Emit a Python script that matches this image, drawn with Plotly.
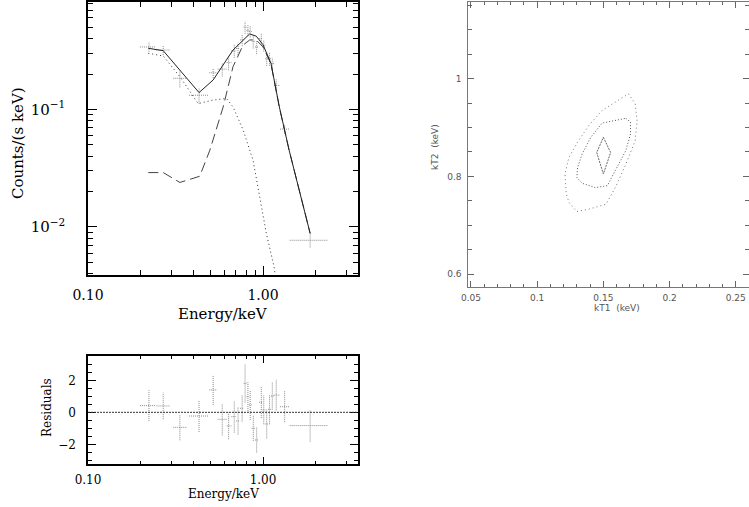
import plotly.graph_objects as go
import numpy as np

# ---------------- data ----------------
energy = [0.223, 0.269, 0.335, 0.431, 0.519, 0.585, 0.636, 0.685, 0.72, 0.76, 0.79, 0.82,
          0.845, 0.88, 0.92, 0.978, 1.01, 1.05, 1.09, 1.13, 1.19, 1.33, 1.86]
energy_lo = [0.198, 0.246, 0.307, 0.378, 0.493, 0.55, 0.62, 0.66, 0.70, 0.74, 0.775, 0.805,
             0.833, 0.862, 0.90, 0.95, 0.995, 1.03, 1.07, 1.11, 1.16, 1.25, 1.42]
energy_hi = [0.243, 0.293, 0.365, 0.485, 0.546, 0.62, 0.66, 0.70, 0.74, 0.775, 0.805, 0.833,
             0.862, 0.90, 0.95, 0.995, 1.03, 1.07, 1.11, 1.16, 1.25, 1.42, 2.35]
counts = [0.34, 0.32, 0.184, 0.132, 0.205, 0.22, 0.25, 0.315, 0.33, 0.39, 0.50, 0.47,
          0.46, 0.38, 0.34, 0.40, 0.35, 0.27, 0.27, 0.245, 0.16, 0.068, 0.0077]
counts_err = [0.03, 0.03, 0.03, 0.02, 0.02, 0.03, 0.035, 0.04, 0.04, 0.045, 0.06, 0.05,
              0.05, 0.05, 0.045, 0.045, 0.04, 0.035, 0.035, 0.03, 0.02, 0.006, 0.001]
resid = [0.42, 0.40, -0.94, -0.23, 1.40, -0.44, -0.85, -0.27, -0.54, 0.25, 1.81, 0.98,
         0.46, -1.0, -1.73, 0.63, 0.15, -0.73, 0.19, 1.02, 1.08, 0.35, -0.83]
resid_err = [0.96, 0.83, 0.81, 1.0, 0.94, 1.0, 0.83, 1.0, 0.85, 0.83, 1.2, 0.9,
             0.94, 0.78, 0.78, 0.98, 0.9, 0.9, 0.94, 0.85, 0.96, 0.97, 1.0]

model_e = [0.221, 0.269, 0.431, 0.519, 0.674, 0.838, 0.915, 1.0, 1.11, 1.24, 1.41, 1.86]
model_total = [0.331, 0.316, 0.139, 0.178, 0.32, 0.438, 0.42, 0.355, 0.247, 0.105, 0.045, 0.0088]

soft_e = [0.221, 0.269, 0.335, 0.426, 0.519, 0.618, 0.674, 0.77, 0.877, 1.045, 1.156, 1.2]
soft_c = [0.30, 0.285, 0.19, 0.112, 0.12, 0.124, 0.105, 0.0667, 0.037, 0.0088, 0.0046, 0.0030]

hard_e = [0.221, 0.269, 0.335, 0.435, 0.497, 0.592, 0.674, 0.77, 0.84, 0.915, 1.0, 1.11, 1.24, 1.41, 1.86]
hard_c = [0.029, 0.029, 0.0239, 0.027, 0.045, 0.105, 0.231, 0.353, 0.39, 0.39, 0.34, 0.245, 0.104, 0.045, 0.0088]

# confidence contours (kT1, kT2)
c_outer_x = [0.169, 0.174, 0.1755, 0.174, 0.167, 0.159, 0.152, 0.139, 0.130, 0.124, 0.122,
             0.121, 0.124, 0.1305, 0.139, 0.149, 0.159, 0.169]
c_outer_y = [0.969, 0.949, 0.914, 0.873, 0.825, 0.777, 0.743, 0.733, 0.728, 0.747, 0.764,
             0.805, 0.839, 0.870, 0.904, 0.935, 0.952, 0.969]
c_mid_x = [0.167, 0.1705, 0.1705, 0.167, 0.159, 0.153, 0.144, 0.134, 0.130, 0.1305, 0.134,
           0.1405, 0.149, 0.159, 0.167]
c_mid_y = [0.919, 0.911, 0.887, 0.853, 0.812, 0.781, 0.777, 0.786, 0.798, 0.818, 0.846,
           0.880, 0.909, 0.914, 0.919]
c_in_x = [0.150, 0.1555, 0.150, 0.145, 0.150]
c_in_y = [0.880, 0.849, 0.805, 0.849, 0.880]

# ---------------- helpers ----------------
def cross_segments(x, xlo, xhi, y, ylo, yhi):
    sx, sy = [], []
    for i in range(len(x)):
        sx += [xlo[i], xhi[i], None, x[i], x[i], None]
        sy += [y[i], y[i], None, ylo[i], yhi[i], None]
    return sx, sy

W, H = 749, 507
def px(x):
    return x / W
def py(y):
    return 1 - y / H

SERIF = "DejaVu Serif"
fig = go.Figure()

ERR = dict(color="#8a8a8a", width=1, dash="1px,1px")

# top panel error crosses
tx, ty = cross_segments(energy, energy_lo, energy_hi, counts,
                        [c - e for c, e in zip(counts, counts_err)],
                        [c + e for c, e in zip(counts, counts_err)])
fig.add_trace(go.Scatter(x=tx, y=ty, mode="lines", xaxis="x", yaxis="y",
                         line=ERR, showlegend=False))
fig.add_trace(go.Scatter(x=soft_e, y=soft_c, mode="lines", xaxis="x", yaxis="y",
                         line=dict(color="#333", width=1, dash="1px,3px"), showlegend=False))
fig.add_trace(go.Scatter(x=hard_e, y=hard_c, mode="lines", xaxis="x", yaxis="y",
                         line=dict(color="#444", width=1, dash="10px,5px"), showlegend=False))
fig.add_trace(go.Scatter(x=model_e, y=model_total, mode="lines", xaxis="x", yaxis="y",
                         line=dict(color="#222", width=1), showlegend=False))

# residual panel
rx, ry = cross_segments(energy, energy_lo, energy_hi, resid,
                        [r - e for r, e in zip(resid, resid_err)],
                        [r + e for r, e in zip(resid, resid_err)])
fig.add_trace(go.Scatter(x=rx, y=ry, mode="lines", xaxis="x2", yaxis="y2",
                         line=ERR, showlegend=False))
fig.add_shape(type="line", xref="x2 domain", yref="y2", x0=0, x1=1, y0=0, y1=0,
              line=dict(color="#333", width=1, dash="2px,1px"))

# contours
fig.add_trace(go.Scatter(x=c_outer_x, y=c_outer_y, mode="lines", xaxis="x3", yaxis="y3",
                         line=dict(color="#777", width=1, dash="1px,3px"), showlegend=False))
fig.add_trace(go.Scatter(x=c_mid_x, y=c_mid_y, mode="lines", xaxis="x3", yaxis="y3",
                         line=dict(color="#555", width=1, dash="1px,2px"), showlegend=False))
fig.add_trace(go.Scatter(x=c_in_x, y=c_in_y, mode="lines", xaxis="x3", yaxis="y3",
                         line=dict(color="#666", width=1, dash="2px,1px"), showlegend=False))

frame = dict(showline=True, linecolor="black", linewidth=1.5, mirror="allticks", automargin=False,
             ticks="inside", tickcolor="black", tickwidth=1.3, showgrid=False, zeroline=False)

log_minor_x = [0.2, 0.3, 0.4, 0.5, 0.6, 0.7, 0.8, 0.9, 2, 3]
fig.update_layout(
    width=W, height=H, margin=dict(l=0, r=0, t=0, b=0, autoexpand=False),
    paper_bgcolor="white", plot_bgcolor="white",
    xaxis=dict(**frame, type="log", domain=[px(88), px(358)], range=[-1, np.log10(3.49)],
               anchor="y", tickvals=[0.1, 1], ticktext=["0.10", "1.00"], ticklen=9,
               tickfont=dict(family=SERIF, size=14, color="black"), ticklabelstandoff=6,
               minor=dict(tickvals=log_minor_x, ticklen=5, ticks="inside", tickcolor="black", tickwidth=1.3)),
    yaxis=dict(**frame, type="log", domain=[py(275), py(2)], range=[np.log10(0.0039), np.log10(0.82)],
               anchor="x", tickvals=[0.01, 0.1], ticktext=["10<sup>\u22122</sup>", "10<sup>\u22121</sup>"],
               ticklen=9, tickfont=dict(family=SERIF, size=15, color="black"), ticklabelstandoff=18,
               minor=dict(tickvals=[0.004, 0.005, 0.006, 0.007, 0.008, 0.009,
                                    0.02, 0.03, 0.04, 0.05, 0.06, 0.07, 0.08, 0.09,
                                    0.2, 0.3, 0.4, 0.5, 0.6, 0.7, 0.8],
                          ticklen=5, ticks="inside", tickcolor="black", tickwidth=1.3)),
    xaxis2=dict(**frame, type="log", domain=[px(88), px(358)], range=[-1, np.log10(3.49)],
                anchor="y2", tickvals=[0.1, 1], ticktext=["0.10", "1.00"], ticklen=8,
                tickfont=dict(family=SERIF, size=12, color="black"), ticklabelstandoff=4,
                minor=dict(tickvals=log_minor_x, ticklen=4, ticks="inside", tickcolor="black", tickwidth=1.3)),
    yaxis2=dict(**frame, domain=[py(464.3), py(355.7)], range=[-3.25, 3.54], anchor="x2",
                tickvals=[-2, 0, 2], ticktext=["\u22122", "0", "2"], ticklen=8,
                tickfont=dict(family=SERIF, size=12, color="black"), ticklabelstandoff=8,
                minor=dict(dtick=0.5, tick0=0, ticklen=4, ticks="inside", tickcolor="black", tickwidth=1.3)),
    xaxis3=dict(showline=True, linecolor="#777", linewidth=1, mirror="allticks", ticks="inside",
                tickcolor="#666", tickwidth=1, ticklen=6, showgrid=False, zeroline=False, automargin=False,
                domain=[px(468.3), 1.0], range=[0.048, 0.26], anchor="y3",
                tickvals=[0.05, 0.1, 0.15, 0.2, 0.25], ticktext=["0.05", "0.1", "0.15", "0.2", "0.25"],
                tickfont=dict(family="DejaVu Sans", size=9, color="#555"), ticklabelstandoff=2,
                minor=dict(dtick=0.01, tick0=0.05, ticklen=3, ticks="inside", tickcolor="#666", tickwidth=1)),
    yaxis3=dict(showline=True, linecolor="#777", linewidth=1, mirror="allticks", ticks="inside",
                tickcolor="#666", tickwidth=1, ticklen=6, showgrid=False, zeroline=False, automargin=False,
                domain=[py(287.3), py(2)], range=[0.573, 1.157], anchor="x3",
                tickvals=[0.6, 0.8, 1.0], ticktext=["0.6", "0.8", "1"],
                tickfont=dict(family="DejaVu Sans", size=9, color="#555"), ticklabelstandoff=4,
                minor=dict(dtick=0.05, tick0=0.6, ticklen=4, ticks="inside", tickcolor="#666", tickwidth=1)),
)

def label(text, x, y, size, family=SERIF, color="black", angle=0):
    fig.add_annotation(text=text, x=px(x), y=py(y), xref="paper", yref="paper",
                       showarrow=False, xanchor="center", yanchor="middle", textangle=angle,
                       font=dict(family=family, size=size, color=color))

label("Energy/keV", 223, 314, 15)
label("Counts/(s keV)", 18, 143, 15, angle=-90)
label("Energy/keV", 223, 494, 12)
label("Residuals", 47, 408, 12, angle=-90)
label("kT1  (keV)", 617, 308, 9, family="DejaVu Sans", color="#555")
label("kT2  (keV)", 435, 147, 9, family="DejaVu Sans", color="#555", angle=-90)

fig.write_html("out.html", config={"displayModeBar": False},
               post_script="document.body.style.margin='0px';document.body.style.overflow='hidden';")
